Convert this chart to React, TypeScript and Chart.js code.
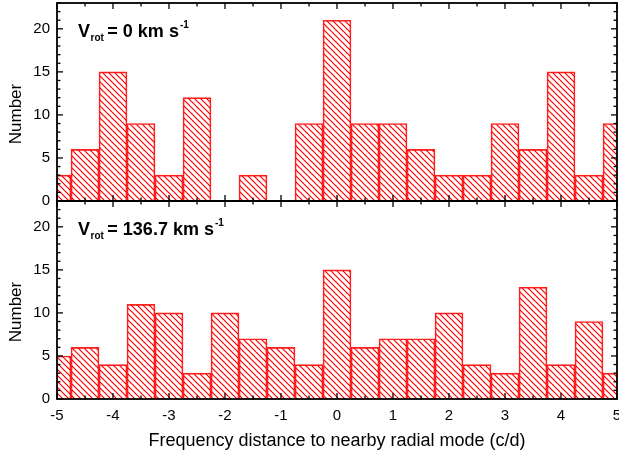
import React, { useEffect, useRef } from 'react';
import { Chart, registerables } from 'chart.js';

Chart.register(...registerables);

// ---- data ----
const binCenters = [-5, -4.5, -4, -3.5, -3, -2.5, -2, -1.5, -1, -0.5, 0, 0.5, 1, 1.5, 2, 2.5, 3, 3.5, 4, 4.5, 5];
const countsVrot0 = [3, 6, 15, 9, 3, 12, 0, 3, 0, 9, 21, 9, 9, 6, 3, 3, 9, 6, 15, 3, 9];
const countsVrot1367 = [5, 6, 4, 11, 10, 3, 10, 7, 6, 4, 15, 6, 7, 7, 10, 4, 3, 13, 4, 9, 3];
const xRange = [-5, 5];
const yRange = [0, 23];
const panelLabelValues = ['0', '136.7'];
const xTitle = 'Frequency distance to nearby radial mode (c/d)';
const yTitle = 'Number';

const FONT = '"Liberation Sans", Arial, sans-serif';

function makeHatch(ctx: CanvasRenderingContext2D) {
  const s = 6;
  const c = document.createElement('canvas');
  c.width = s;
  c.height = s;
  const g = c.getContext('2d')!;
  g.strokeStyle = '#ff0000';
  g.lineWidth = 1.2;
  g.beginPath();
  g.moveTo(-1, -1);
  g.lineTo(s + 1, s + 1);
  g.moveTo(-1, s - 1);
  g.lineTo(1, s + 1);
  g.moveTo(s - 1, -1);
  g.lineTo(s + 1, 1);
  g.stroke();
  return ctx.createPattern(c, 'repeat');
}

const panelIds = ['yTop', 'yBot'];

const frameTicksPlugin = {
  id: 'frameTicks',
  afterDatasetsDraw(chart: any) {
    const ctx = chart.ctx as CanvasRenderingContext2D;
    const x = chart.scales.x;
    ctx.save();
    ctx.strokeStyle = '#000';
    const line = (a: number, b: number, c: number, d: number) => {
      ctx.beginPath();
      ctx.moveTo(a, b);
      ctx.lineTo(c, d);
      ctx.stroke();
    };
    for (const id of panelIds) {
      const y = chart.scales[id];
      ctx.lineWidth = 1.3;
      for (let v = Math.ceil(y.min); v <= y.max; v += 1) {
        const py = y.getPixelForValue(v);
        const len = v % 5 === 0 ? 6 : 3.5;
        line(x.left, py, x.left + len, py);
        line(x.right, py, x.right - len, py);
      }
      for (let v = x.min; v <= x.max + 1e-9; v += 0.5) {
        const px = x.getPixelForValue(v);
        const len = Math.abs(v - Math.round(v)) < 1e-9 ? 6 : 3.5;
        line(px, y.top, px, y.top + len);
        line(px, y.bottom, px, y.bottom - len);
      }
      ctx.lineWidth = 1.8;
      ctx.strokeRect(x.left, y.top, x.right - x.left, y.bottom - y.top);
    }
    ctx.restore();
  },
};

const panelLabelPlugin = {
  id: 'panelLabels',
  afterDraw(chart: any) {
    const ctx = chart.ctx as CanvasRenderingContext2D;
    const x = chart.scales.x;
    ctx.save();
    ctx.fillStyle = '#000';
    ctx.textBaseline = 'alphabetic';
    panelIds.forEach((id, i) => {
      const y = chart.scales[id];
      // y-axis title, drawn slightly below the panel centre as in the original
      ctx.save();
      ctx.font = `17px ${FONT}`;
      ctx.textAlign = 'center';
      ctx.translate(21, (y.top + y.bottom) / 2 + 12);
      ctx.rotate(-Math.PI / 2);
      ctx.fillText(yTitle, 0, 0);
      ctx.restore();

      // panel annotation: V_rot = ... km s^-1
      ctx.textAlign = 'left';
      let px = x.left + 21;
      const base = y.getPixelForValue(19.1);
      ctx.font = `bold 18px ${FONT}`;
      ctx.fillText('V', px, base);
      px += ctx.measureText('V').width + 0.5;
      ctx.font = `bold 10px ${FONT}`;
      ctx.fillText('rot', px, base + 4);
      px += ctx.measureText('rot').width - 1.5;
      ctx.font = `bold 18px ${FONT}`;
      const rest = ` = ${panelLabelValues[i]} km s`;
      ctx.fillText(rest, px, base);
      px += ctx.measureText(rest).width + 1;
      ctx.font = `bold 10px ${FONT}`;
      ctx.fillText('-1', px, base - 9);
    });
    ctx.restore();
  },
};

export default function App() {
  const ref = useRef<HTMLCanvasElement>(null);

  useEffect(() => {
    const canvas = ref.current!;
    const ctx = canvas.getContext('2d')!;
    const hatch = makeHatch(ctx);
    Chart.defaults.font.family = FONT;

    const barCommon = {
      type: 'bar' as const,
      xAxisID: 'x',
      backgroundColor: hatch as any,
      borderColor: '#ff2020',
      borderWidth: 1,
      barPercentage: 1,
      categoryPercentage: 1,
      grouped: false,
    };

    const yAxis = () => ({
      type: 'linear' as const,
      position: 'left' as const,
      stack: 'panels',
      stackWeight: 1,
      min: yRange[0],
      max: yRange[1],
      grid: { display: false, drawTicks: false },
      border: { display: false },
      ticks: {
        stepSize: 5,
        includeBounds: false,
        padding: 7,
        color: '#000',
        font: { size: 15, family: FONT },
      },
      title: { display: false, text: yTitle },
      afterFit(scale: any) {
        scale.width = 57;
        scale.paddingTop = 0;
        scale.paddingBottom = 0;
      },
    });

    const chart = new Chart(canvas, {
      type: 'bar',
      data: {
        datasets: [
          {
            ...barCommon,
            label: 'Vrot = 136.7',
            yAxisID: 'yBot',
            data: binCenters.map((c, i) => ({ x: c, y: countsVrot1367[i] })),
          },
          {
            ...barCommon,
            label: 'Vrot = 0',
            yAxisID: 'yTop',
            data: binCenters.map((c, i) => ({ x: c, y: countsVrot0[i] })),
          },
        ],
      },
      options: {
        responsive: false,
        animation: false,
        devicePixelRatio: 1,
        layout: { padding: { top: 3, right: 2, left: 0, bottom: 0 } },
        plugins: { legend: { display: false }, tooltip: { enabled: false } },
        scales: {
          x: {
            type: 'linear',
            position: 'bottom',
            min: xRange[0],
            max: xRange[1],
            offset: false,
            grid: { display: false, drawTicks: false, offset: false },
            border: { display: false },
            ticks: {
              stepSize: 1,
              autoSkip: false,
              maxRotation: 0,
              padding: 8,
              color: '#000',
              font: { size: 15, family: FONT },
            },
            title: {
              display: true,
              text: xTitle,
              color: '#000',
              font: { size: 18, family: FONT },
              padding: { top: 4, bottom: 2 },
            },
            afterFit(scale: any) {
              scale.height = 55;
              scale.paddingLeft = 0;
              scale.paddingRight = 0;
            },
          },
          yBot: yAxis(),
          yTop: yAxis(),
        },
      },
      plugins: [frameTicksPlugin, panelLabelPlugin],
    } as any);

    return () => chart.destroy();
  }, []);

  return (
    <div style={{ position: 'fixed', left: 0, top: 0, width: 619, height: 454, background: '#fff' }}>
      <canvas ref={ref} width={619} height={454} style={{ display: 'block' }} />
    </div>
  );
}
